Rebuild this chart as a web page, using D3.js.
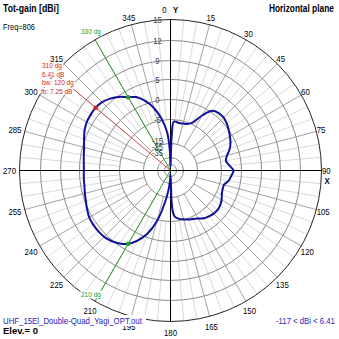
<!DOCTYPE html>
<html><head><meta charset="utf-8">
<script src="https://cdn.jsdelivr.net/npm/d3@7"></script>
<style>
html,body{margin:0;padding:0;background:#fff;}
svg{display:block;}
text{font-family:"Liberation Sans",Arial,sans-serif;}
</style></head><body>
<svg id="c" width="339" height="339"></svg>
<script>
// ---------- data ----------
const ringValues = [15, 12, 9, 5, 0, -5, -15, -25, -35];
const angleTicks = [0,15,30,45,60,75,90,105,120,135,150,165,180,195,210,225,240,255,270,285,300,315,345];
const angles = [0,2,4,10,15,20,25,30,35,40,45,50,55,60,65,70,75,80,85,90,95,100,105,110,115,120,125,130,135,140,145,150,155,160,165,170,175,177,178,180,183,186,190,195,200,205,210,215,220,225,230,235,240,245,250,255,260,265,270,275,280,285,290,295,300,305,310,315,320,325,330,335,340,345,350,355,358];
const gains  = [-45,-11.7,-5.8,-6.2,-6.0,-5.6,-4.5,-1.8,0.5,1.0,1.0,0.6,0.0,-0.6,-1.2,-2.0,-3.1,-3.7,-3.0,-2.0,-2.5,-3.0,-3.9,-3.9,-3.6,-3.0,-2.6,-2.4,-2.5,-2.8,-3.2,-3.9,-4.4,-4.7,-5.2,-5.8,-7.1,-9.6,-13.7,-45,-27.5,-20,-12.5,-4.6,-1.0,1.5,3.41,4.5,5.2,5.6,5.7,5.7,5.6,5.2,4.75,4.4,4.1,4.0,3.9,4.0,4.25,4.6,5.2,5.8,6.2,6.35,6.41,6.2,5.6,4.7,3.41,2.5,0.75,-1.5,-4.5,-10.4,-20];
const maxAngle = 310, maxGain = 6.41;
const bwAngles = [330, 210], bwGain = 3.41;
const redNotes = ["310 dg", "6.41 dB", "bw: 120 dg", "fb: 7.25 dB"];
const greenNotes = ["330 dg", "210 dg"];
const titleLeft = "Tot-gain [dBi]", freqText = "Freq=806", titleRight = "Horizontal plane";
const fileName = "UHF_15El_Double-Quad_Yagi_OPT.out", elevText = "Elev.= 0", rangeText = "-117 < dBi < 6.41";

// ---------- layout ----------
const svg = d3.select("#c");
const cx = 170.5, cy = 170.5, R = 151;
const frac = [0, .04, .086, .179, .338, .47, .603, .728, .861, 1];
const r = d3.scaleLinear().domain([-60, -35, -25, -15, -5, 0, 5, 9, 12, 15]).range(frac.map(f => f * R)).clamp(true);
const rad = d => d * Math.PI / 180;

// text helper: horizontally compressed via transform (k = factor, or width = target width)
function txt(parent, s, x, y, o = {}) {
  const t = parent.append("text").text(s).attr("x", 0).attr("y", 0)
    .attr("font-size", o.size || 9).attr("fill", o.fill || "#000")
    .attr("font-weight", o.bold ? "bold" : "normal")
    .attr("text-anchor", o.anchor || "start");
  const w = t.node().getComputedTextLength();
  const k = o.width ? o.width / w : (o.k || 1);
  t.attr("transform", `translate(${x},${y}) scale(${k},1)`);
  t.w = w * k;
  return t;
}

const grid = svg.append("g").attr("transform", `translate(${cx},${cy})`);

// spokes
d3.range(0, 360, 5).filter(a => a % 90 !== 0).forEach(a => {
  const major = a % 15 === 0;
  const r0 = major ? r(-15) : r(-5);
  const s = Math.sin(rad(a)), c = Math.cos(rad(a));
  grid.append("line").attr("x1", r0 * s).attr("y1", -r0 * c).attr("x2", R * s).attr("y2", -R * c)
    .attr("stroke", major ? "#a4a4a4" : "#dadada").attr("stroke-width", 1);
});
// rings
ringValues.forEach(v => {
  grid.append("circle").attr("r", r(v)).attr("fill", "none")
    .attr("stroke", v === 15 ? "#262626" : "#8a8a8a").attr("stroke-width", 1);
});
// axes
grid.append("line").attr("x1", -R).attr("x2", R).attr("y1", 0).attr("y2", 0).attr("stroke", "#000");
grid.append("line").attr("y1", -R).attr("y2", R).attr("x1", 0).attr("x2", 0).attr("stroke", "#000");

// angle labels
angleTicks.forEach(a => {
  const s = Math.sin(rad(a)), c = Math.cos(rad(a));
  const px = cx + R * s, py = cy - R * c;
  if (a === 0) {
    txt(svg, "0", cx - 4, py - 6.5, {anchor: "end", size: 9, k: 0.87});
    txt(svg, "Y", cx + 2.5, py - 6.5, {size: 9, bold: true, k: 0.87});
    return;
  }
  const probe = svg.append("text").text(String(a)).attr("font-size", 9);
  const w = probe.node().getComputedTextLength() * 0.87;
  probe.remove();
  const xc = px + s * (w / 2 + (s > 0 ? 0.5 : 3.5));
  const yb = py + 3 - (c > 0 ? 7 : 11) * c;
  txt(svg, String(a), xc, yb, {anchor: "middle", size: 9, k: 0.87});
  if (a === 90) txt(svg, "X", px + 3, yb + 10.5, {size: 9, bold: true, k: 0.87});
});

// ring labels (inner labels pushed upward so they stay readable)
let prevB = cy - 8.5;
ringValues.slice().reverse().forEach(v => {
  const b = Math.min(cy - r(v) + 3.2, prevB - 6);
  prevB = b;
  txt(svg, String(v), cx - 13, b, {anchor: "middle", size: 8.5, fill: "#3a3a3a", k: 0.9});
});

// rays
const ray = (a, col) => grid.append("line").attr("x1", 0).attr("y1", 0)
  .attr("x2", R * Math.sin(rad(a))).attr("y2", -R * Math.cos(rad(a)))
  .attr("stroke", col).attr("stroke-width", 1);
ray(maxAngle, "#c84848");
bwAngles.forEach(a => ray(a, "#2ea02e"));

// pattern
const pts = angles.map((a, i) => ({a, g: gains[i]}));
const line = d3.lineRadial().angle(d => rad(d.a)).radius(d => r(d.g))
  .curve(d3.curveCatmullRomClosed.alpha(0.5));
grid.append("path").attr("d", line(pts)).attr("fill", "none")
  .attr("stroke", "#10109a").attr("stroke-width", 2);

// markers
const mark = (a, gv, col) => grid.append("circle")
  .attr("cx", r(gv) * Math.sin(rad(a))).attr("cy", -r(gv) * Math.cos(rad(a)))
  .attr("r", 2.3).attr("fill", col);
mark(maxAngle, maxGain, "#d42020");
bwAngles.forEach(a => mark(a, bwGain, "#20a020"));

// annotation texts with white background
function note(s, x, y, col) {
  const gg = svg.append("g");
  const t = gg.append("text").text(s).attr("x", x).attr("y", y).attr("font-size", 6.5).attr("fill", col);
  const bb = t.node().getBBox();
  gg.insert("rect", "text").attr("x", bb.x - 0.5).attr("y", bb.y)
    .attr("width", bb.width + 1.5).attr("height", bb.height).attr("fill", "#fff");
}
const redY = [68, 76.5, 85, 93.5];
redNotes.forEach((s, i) => note(s, i === 3 ? 41 : 42, redY[i], "#cc2a2a"));
note(greenNotes[0], 81, 34, "#22a022");
note(greenNotes[1], 81, 296.5, "#22a022");

// titles and footers
txt(svg, titleLeft, 3, 12, {size: 10, bold: true, width: 56});
txt(svg, freqText, 3, 30, {size: 9.5, width: 32});
txt(svg, titleRight, 269, 12, {size: 10, bold: true, width: 65});
{
  const gg = svg.append("g");
  gg.append("rect").attr("x", 0).attr("y", 315).attr("width", 146).attr("height", 11).attr("fill", "#fff");
  txt(gg, fileName, 3, 323.5, {size: 9, fill: "#2323c4", width: 139});
}
txt(svg, elevText, 3, 333.5, {size: 9.5, bold: true, width: 35});
txt(svg, rangeText, 276, 323.5, {size: 9, fill: "#2323c4", width: 59});
</script>
</body></html>
